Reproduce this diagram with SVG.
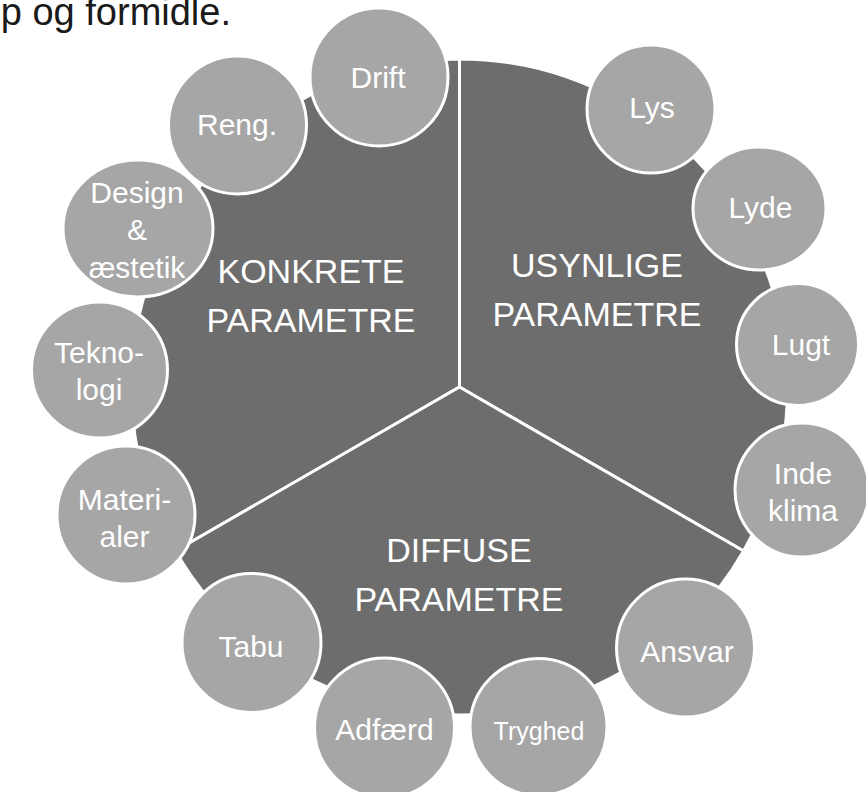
<svg xmlns="http://www.w3.org/2000/svg" width="866" height="792" viewBox="0 0 866 792">
<style>
  .sector { fill: #6d6d6d; stroke: #ffffff; stroke-width: 3; stroke-linejoin: miter; }
  .bub { fill: #a6a6a6; stroke: #ffffff; stroke-width: 3; }
  .big { font-family: "Liberation Sans", Arial, sans-serif; font-size: 34px; fill: #ffffff; text-anchor: middle; }
  .lbl { font-family: "Liberation Sans", Arial, sans-serif; font-size: 30px; fill: #ffffff; text-anchor: middle; }
  .small { font-size: 25px; }
  .top { font-family: "Liberation Sans", Arial, sans-serif; font-size: 38px; fill: #1a1a1a; }
</style>
<rect width="866" height="792" fill="#ffffff"/>
<text class="top" x="231" y="25" text-anchor="end">p og formidle.</text>

<g id="konkrete">
  <path class="sector" d="M459.5,387 L459.5,59 A328,328 0 0 0 175.4,551 Z"/>
  <text class="big" x="311" y="283">KONKRETE</text>
  <text class="big" x="311" y="332">PARAMETRE</text>
</g>
<g id="usynlige">
  <path class="sector" d="M459.5,387 L459.5,59 A328,328 0 0 1 743.6,551 Z"/>
  <text class="big" x="597" y="277">USYNLIGE</text>
  <text class="big" x="597" y="326">PARAMETRE</text>
</g>
<g id="diffuse">
  <path class="sector" d="M459.5,387 L743.6,551 A328,328 0 0 1 175.4,551 Z"/>
  <text class="big" x="459" y="562">DIFFUSE</text>
  <text class="big" x="459" y="611">PARAMETRE</text>
</g>

<g id="connectors"></g>

<g id="drift">
  <circle class="bub" cx="379" cy="77" r="69"/>
  <text class="lbl" x="378" y="88">Drift</text>
</g>
<g id="reng">
  <circle class="bub" cx="237.5" cy="125" r="69"/>
  <text class="lbl" x="237" y="135">Reng.</text>
</g>
<g id="design">
  <ellipse class="bub" cx="138" cy="228.5" rx="75" ry="68.5"/>
  <text class="lbl" x="137" y="203">Design</text>
  <text class="lbl" x="137" y="240">&amp;</text>
  <text class="lbl" x="137" y="278">æstetik</text>
</g>
<g id="teknologi">
  <circle class="bub" cx="99.5" cy="370" r="68"/>
  <text class="lbl" x="99" y="363">Tekno-</text>
  <text class="lbl" x="99" y="400">logi</text>
</g>
<g id="materialer">
  <circle class="bub" cx="126" cy="515" r="69"/>
  <text class="lbl" x="124.5" y="510">Materi-</text>
  <text class="lbl" x="124.5" y="547">aler</text>
</g>
<g id="tabu">
  <circle class="bub" cx="251.5" cy="643" r="69.5"/>
  <text class="lbl" x="251" y="657">Tabu</text>
</g>
<g id="adfaerd">
  <circle class="bub" cx="384.5" cy="728" r="70"/>
  <text class="lbl" x="384.5" y="740">Adfærd</text>
</g>
<g id="tryghed">
  <circle class="bub" cx="538.5" cy="727" r="68.5"/>
  <text class="lbl small" x="539" y="740">Tryghed</text>
</g>
<g id="ansvar">
  <circle class="bub" cx="685.5" cy="648" r="69"/>
  <text class="lbl" x="687" y="662">Ansvar</text>
</g>
<g id="indeklima">
  <circle class="bub" cx="802" cy="490" r="67"/>
  <text class="lbl" x="803" y="484">Inde</text>
  <text class="lbl" x="803" y="521">klima</text>
</g>
<g id="lugt">
  <circle class="bub" cx="797.5" cy="344.5" r="61"/>
  <text class="lbl" x="801" y="355">Lugt</text>
</g>
<g id="lyde">
  <ellipse class="bub" cx="759.5" cy="208.5" rx="66.5" ry="61.5"/>
  <text class="lbl" x="760.5" y="218">Lyde</text>
</g>
<g id="lys">
  <circle class="bub" cx="651" cy="109" r="64"/>
  <text class="lbl" x="652" y="118">Lys</text>
</g>
</svg>
